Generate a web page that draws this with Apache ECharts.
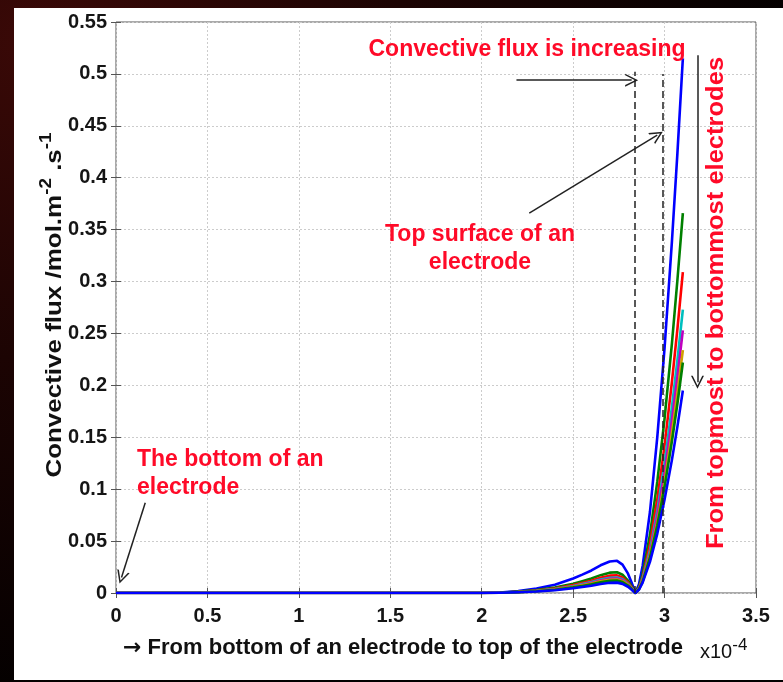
<!DOCTYPE html>
<html>
<head>
<meta charset="utf-8">
<script src="https://cdn.jsdelivr.net/npm/echarts@6/dist/echarts.min.js"></script>
<style>
  html, body { margin: 0; padding: 0; background: #000; }
  #page {
    position: relative; width: 783px; height: 682px; overflow: hidden;
    background: radial-gradient(ellipse at 4% 6%, #3a0907 0%, #1c0403 35%, #020000 75%);
  }
  #panel { position: absolute; left: 14px; top: 8px; width: 769px; height: 672px; background: #fff; }
  #chart { position: absolute; left: 0; top: 0; width: 783px; height: 682px; }
</style>
</head>
<body>
<div id="page"><div id="panel"></div><div id="chart"></div></div>
<script>
// Position along the electrode height (units of 1e-4)
const xPos = [0, 0.5, 1.0, 1.5, 2.0, 2.1, 2.2, 2.3, 2.4, 2.5, 2.55, 2.6, 2.65, 2.7, 2.74, 2.77, 2.8, 2.82, 2.84,
              2.86, 2.88, 2.92, 2.96, 3.0, 3.04, 3.07, 3.1];

// Convective flux profiles, topmost electrode first
const electrode1 = [0, 0, 0, 0, 0, 0.0005, 0.002, 0.0043, 0.008, 0.014, 0.0177, 0.0217, 0.0267, 0.0304, 0.031, 0.0273, 0.0186, 0.0099, 0,
                    0.0085, 0.026, 0.078, 0.150, 0.236, 0.338, 0.423, 0.515];
const electrode2 = [0, 0, 0, 0, 0, 0.0003, 0.0013, 0.0028, 0.0052, 0.009, 0.0114, 0.014, 0.0172, 0.0196, 0.020, 0.0176, 0.012, 0.0064, 0,
                    0.006, 0.018, 0.056, 0.107, 0.168, 0.240, 0.301, 0.366];
const electrode3 = [0, 0, 0, 0, 0, 0.0003, 0.0011, 0.0024, 0.0044, 0.0077, 0.0097, 0.0119, 0.0146, 0.0167, 0.017, 0.015, 0.0102, 0.0054, 0,
                    0.005, 0.015, 0.047, 0.090, 0.142, 0.203, 0.254, 0.309];
const electrode4 = [0, 0, 0, 0, 0, 0.0002, 0.0010, 0.0021, 0.0039, 0.0068, 0.0086, 0.0105, 0.0129, 0.0147, 0.015, 0.0132, 0.009, 0.0048, 0,
                    0.0045, 0.014, 0.041, 0.079, 0.125, 0.179, 0.224, 0.273];
const electrode5 = [0, 0, 0, 0, 0, 0.0002, 0.0009, 0.002, 0.0036, 0.0063, 0.008, 0.0098, 0.012, 0.0137, 0.014, 0.0123, 0.0084, 0.0045, 0,
                    0.0041, 0.013, 0.038, 0.074, 0.116, 0.166, 0.208, 0.253];
const electrode6 = [0, 0, 0, 0, 0, 0.0002, 0.0008, 0.0018, 0.0034, 0.0059, 0.0074, 0.0091, 0.0112, 0.0127, 0.013, 0.0114, 0.0078, 0.0042, 0,
                    0.0038, 0.012, 0.036, 0.068, 0.107, 0.154, 0.192, 0.234];
const electrode7 = [0, 0, 0, 0, 0, 0.0002, 0.0008, 0.0017, 0.0031, 0.0054, 0.0068, 0.0084, 0.0103, 0.0118, 0.012, 0.0106, 0.0072, 0.0038, 0,
                    0.0036, 0.011, 0.034, 0.065, 0.102, 0.146, 0.182, 0.222];
const electrode8 = [0, 0, 0, 0, 0, 0.0002, 0.0007, 0.0014, 0.0026, 0.0045, 0.0057, 0.007, 0.0086, 0.0098, 0.010, 0.0088, 0.006, 0.0032, 0,
                    0.0031, 0.010, 0.030, 0.057, 0.090, 0.128, 0.160, 0.195];

const profiles = [electrode1, electrode2, electrode3, electrode4, electrode5, electrode6, electrode7, electrode8];
const lineColors = ['#0000ff', '#008000', '#ff0000', '#00bfbf', '#bf00bf', '#d0a000', '#008000', '#0000ff'];

const FONT = "'Liberation Sans', Arial, sans-serif";
const RED = '#ff0a28';
const chevron = 'path://M0 0 L6 12 L4.4 12 L0 3 L-4.4 12 L-6 12 Z';

const chart = echarts.init(document.getElementById('chart'), null, { renderer: 'canvas' });

const profileSeries = profiles.map((vals, k) => ({
  type: 'line',
  xAxisIndex: 0, yAxisIndex: 0,
  data: xPos.map((x, i) => [x, vals[i]]),
  showSymbol: false,
  smooth: false,
  lineStyle: { color: lineColors[k], width: 2.6, join: 'round' },
  z: 3
}));

const guideSeries = {
  type: 'line', data: [], xAxisIndex: 0, yAxisIndex: 0,
  markLine: {
    silent: true, animation: false, symbol: 'none',
    label: { show: false },
    lineStyle: { color: '#222', type: [7, 4], width: 1.5 },
    data: [
      [{ coord: [2.835, 0] }, { coord: [2.835, 0.502] }],
      [{ coord: [2.99, 0] }, { coord: [2.99, 0.50] }]
    ]
  }
};

const arrowSeries = {
  type: 'line', data: [], xAxisIndex: 0, yAxisIndex: 0,
  markLine: {
    silent: true, animation: false,
    symbol: ['none', chevron], symbolSize: 13,
    label: { show: false },
    lineStyle: { color: '#222', type: 'solid', width: 1.5 },
    data: [
      [{ coord: [2.19, 0.494] }, { coord: [2.82, 0.494] }],
      [{ coord: [2.26, 0.366] }, { coord: [2.96, 0.441] }],
      [{ coord: [3.18, 0.518] }, { coord: [3.18, 0.203] }],
      [{ coord: [0.16, 0.087] }, { coord: [0.03, 0.015] }]
    ]
  }
};

const tickLabel = { color: '#151515', fontFamily: FONT, fontWeight: 'bold', fontSize: 20 };
const gridLine = { show: true, lineStyle: { color: '#cccccc', type: [2, 2], width: 1 } };

chart.setOption({
  animation: false,
  grid: { left: 116, right: 27, top: 22, bottom: 89, show: true, borderColor: '#555', borderWidth: 1 },
  xAxis: [
    { type: 'value', min: 0, max: 3.5, interval: 0.5, position: 'bottom',
      axisLine: { show: false },
      axisTick: { show: true, inside: true, length: 5, lineStyle: { color: '#555' } },
      axisLabel: Object.assign({ margin: 13 }, tickLabel),
      splitLine: gridLine },
    { type: 'value', min: 0, max: 3.5, interval: 0.5, position: 'top',
      axisLine: { show: false },
      axisTick: { show: true, inside: true, length: 5, lineStyle: { color: '#555' } },
      axisLabel: { show: false }, splitLine: { show: false } }
  ],
  yAxis: [
    { type: 'value', min: 0, max: 0.55, interval: 0.05, position: 'left',
      axisLine: { show: false },
      axisTick: { show: true, inside: true, length: 5, lineStyle: { color: '#555' } },
      axisLabel: Object.assign({ margin: 9 }, tickLabel),
      splitLine: gridLine },
    { type: 'value', min: 0, max: 0.55, interval: 0.05, position: 'right',
      axisLine: { show: false },
      axisTick: { show: true, inside: true, length: 5, lineStyle: { color: '#555' } },
      axisLabel: { show: false }, splitLine: { show: false } }
  ],
  series: profileSeries.concat([guideSeries, arrowSeries]),
  graphic: [
    { type: 'text', x: 55, y: 305, rotation: Math.PI / 2, scaleX: 1.18, z: 10,
      style: {
        text: '{n|Convective flux /mol.m}{s|-2}{n| .s}{s|-1}',
        align: 'center', verticalAlign: 'middle', textAlign: 'center', textVerticalAlign: 'middle',
        fill: '#111',
        rich: {
          n: { fontFamily: FONT, fontWeight: 'bold', fontSize: 22, lineHeight: 32, fill: '#111' },
          s: { fontFamily: FONT, fontWeight: 'bold', fontSize: 16, lineHeight: 16, verticalAlign: 'top', fill: '#111' }
        }
      } },
    { type: 'text', x: 403, y: 648, z: 10,
      style: {
        text: '{a|\u2192}{n| From bottom of an electrode to top of the electrode}',
        align: 'center', verticalAlign: 'middle', textAlign: 'center', textVerticalAlign: 'middle',
        fill: '#111',
        rich: {
          a: { fontFamily: "'DejaVu Sans', sans-serif", fontWeight: 'bold', fontSize: 22, lineHeight: 28, fill: '#111' },
          n: { fontFamily: FONT, fontWeight: 'bold', fontSize: 22, lineHeight: 28, fill: '#111' }
        }
      } },
    { type: 'text', x: 700, y: 652, z: 10,
      style: {
        text: '{n|x10}{s|-4}',
        align: 'left', verticalAlign: 'middle', textAlign: 'left', textVerticalAlign: 'middle',
        fill: '#111',
        rich: {
          n: { fontFamily: FONT, fontSize: 20, lineHeight: 30, fill: '#111' },
          s: { fontFamily: FONT, fontSize: 17, lineHeight: 16, verticalAlign: 'top', fill: '#111' }
        }
      } },
    { type: 'text', x: 527, y: 50, z: 10,
      style: {
        text: 'Convective flux is increasing',
        align: 'center', verticalAlign: 'middle', textAlign: 'center', textVerticalAlign: 'middle',
        fill: RED, font: 'bold 23px ' + FONT
      } },
    { type: 'text', x: 480, y: 249, z: 10,
      style: {
        text: 'Top surface of an\nelectrode', lineHeight: 28,
        align: 'center', verticalAlign: 'middle', textAlign: 'center', textVerticalAlign: 'middle',
        fill: RED, font: 'bold 23px ' + FONT
      } },
    { type: 'text', x: 137, y: 474, z: 10,
      style: {
        text: 'The bottom of an\nelectrode', lineHeight: 28,
        align: 'left', verticalAlign: 'middle', textAlign: 'left', textVerticalAlign: 'middle',
        fill: RED, font: 'bold 23px ' + FONT
      } },
    { type: 'text', x: 717, y: 303, rotation: Math.PI / 2, scaleX: 1.11, z: 10,
      style: {
        text: 'From topmost to bottommost electrodes',
        align: 'center', verticalAlign: 'middle', textAlign: 'center', textVerticalAlign: 'middle',
        fill: RED, font: 'bold 23px ' + FONT
      } }
  ]
});
</script>
</body>
</html>
